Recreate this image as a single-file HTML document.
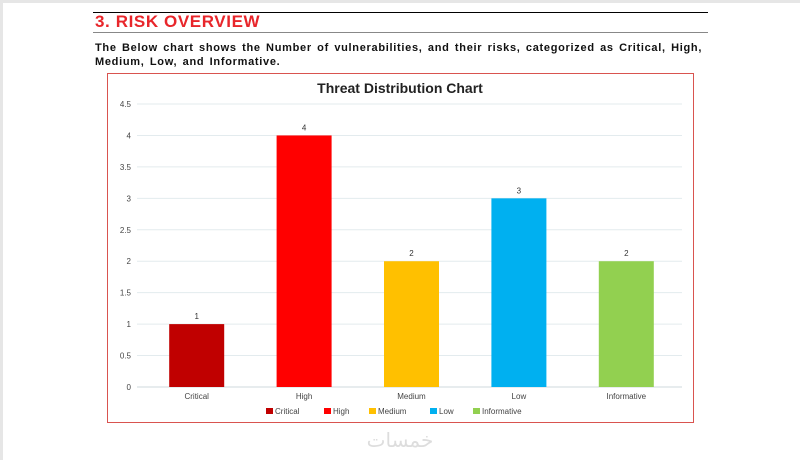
<!DOCTYPE html>
<html><head><meta charset="utf-8"><style>
body{margin:0;width:800px;height:460px;background:#fff;position:relative;overflow:hidden;font-family:"Liberation Sans",sans-serif}
.abs{position:absolute}
</style></head><body>
<div class="abs" style="left:0;top:0;width:800px;height:3px;background:#e6e6e6"></div>
<div class="abs" style="left:0;top:0;width:3px;height:460px;background:#e6e6e6"></div>
<div class="abs" style="left:93px;top:12px;width:615px;height:1px;background:#000"></div>
<div class="abs" style="left:95px;top:12px;font-size:17px;font-weight:bold;color:#e8262b;letter-spacing:0.6px">3. RISK OVERVIEW</div>
<div class="abs" style="left:93px;top:32px;width:615px;height:1px;background:#888"></div>
<div class="abs" style="left:95px;top:42px;width:640px;white-space:nowrap;font-size:11px;font-weight:bold;color:#111;line-height:13.5px;letter-spacing:0.7px;word-spacing:1.6px">The Below chart shows the Number of vulnerabilities, and their risks, categorized as Critical, High,<br>Medium, Low, and Informative.</div>
<div class="abs" style="left:107px;top:73px;width:587px;height:350px;border:1px solid #d9534f;box-sizing:border-box"></div>
<svg class="abs" style="left:0;top:0" width="800" height="460">
<text x="400" y="93" text-anchor="middle" font-size="14" font-weight="bold" fill="#222" font-family="Liberation Sans">Threat Distribution Chart</text>
<g id="g"></g>
<text x="400" y="447" text-anchor="middle" font-size="20" fill="#ddd" font-family="DejaVu Sans,sans-serif">خمسات</text>
</svg>
<script>
const categories=["Critical","High","Medium","Low","Informative"];
const values=[1,4,2,3,2];
const colors=["#c00000","#ff0000","#ffc000","#00b0f0","#92d050"];
const ticks=[0,0.5,1,1.5,2,2.5,3,3.5,4,4.5];
const ns="http://www.w3.org/2000/svg",g=document.getElementById("g");
const L=143,R=680,Y0=387,Ytop=104,max=4.5;
const y=v=>Y0-(v/max)*(Y0-Ytop);
const bw=(R-L)/categories.length;
const xc=i=>L+bw*(i+0.5);
function mk(t,a,txt){const e=document.createElementNS(ns,t);for(const k in a)e.setAttribute(k,a[k]);if(txt!=null)e.textContent=txt;g.appendChild(e);return e;}
ticks.forEach(t=>{
 const l=mk("line",{x1:137,x2:682,y1:y(t),y2:y(t),stroke:t===0?"#cfd8dc":"#e3ebee","stroke-width":1});
 
 
 const tx=mk("text",{x:131,y:y(t)+3,"text-anchor":"end","font-size":8,fill:"#444"},String(t));
 
 
});
categories.forEach((c,i)=>{
 const r=mk("rect",{x:xc(i)-27.5,y:y(values[i]),width:55,height:Y0-y(values[i]),fill:colors[i]});
 
 
 const v=mk("text",{x:xc(i),y:y(values[i])-5,"text-anchor":"middle","font-size":8,fill:"#333"},String(values[i]));
 
 
 const cl=mk("text",{x:xc(i),y:399,"text-anchor":"middle","font-size":8,fill:"#444"},c);
 
 
});
const lx=[266,324,369,430,473];
categories.forEach((c,i)=>{
 const s=mk("rect",{x:lx[i],y:408,width:7,height:6,fill:colors[i]});
 
 
 const t=mk("text",{x:lx[i]+9,y:414,"font-size":8,fill:"#444"},c);
 
 
});
</script>
</body></html>
